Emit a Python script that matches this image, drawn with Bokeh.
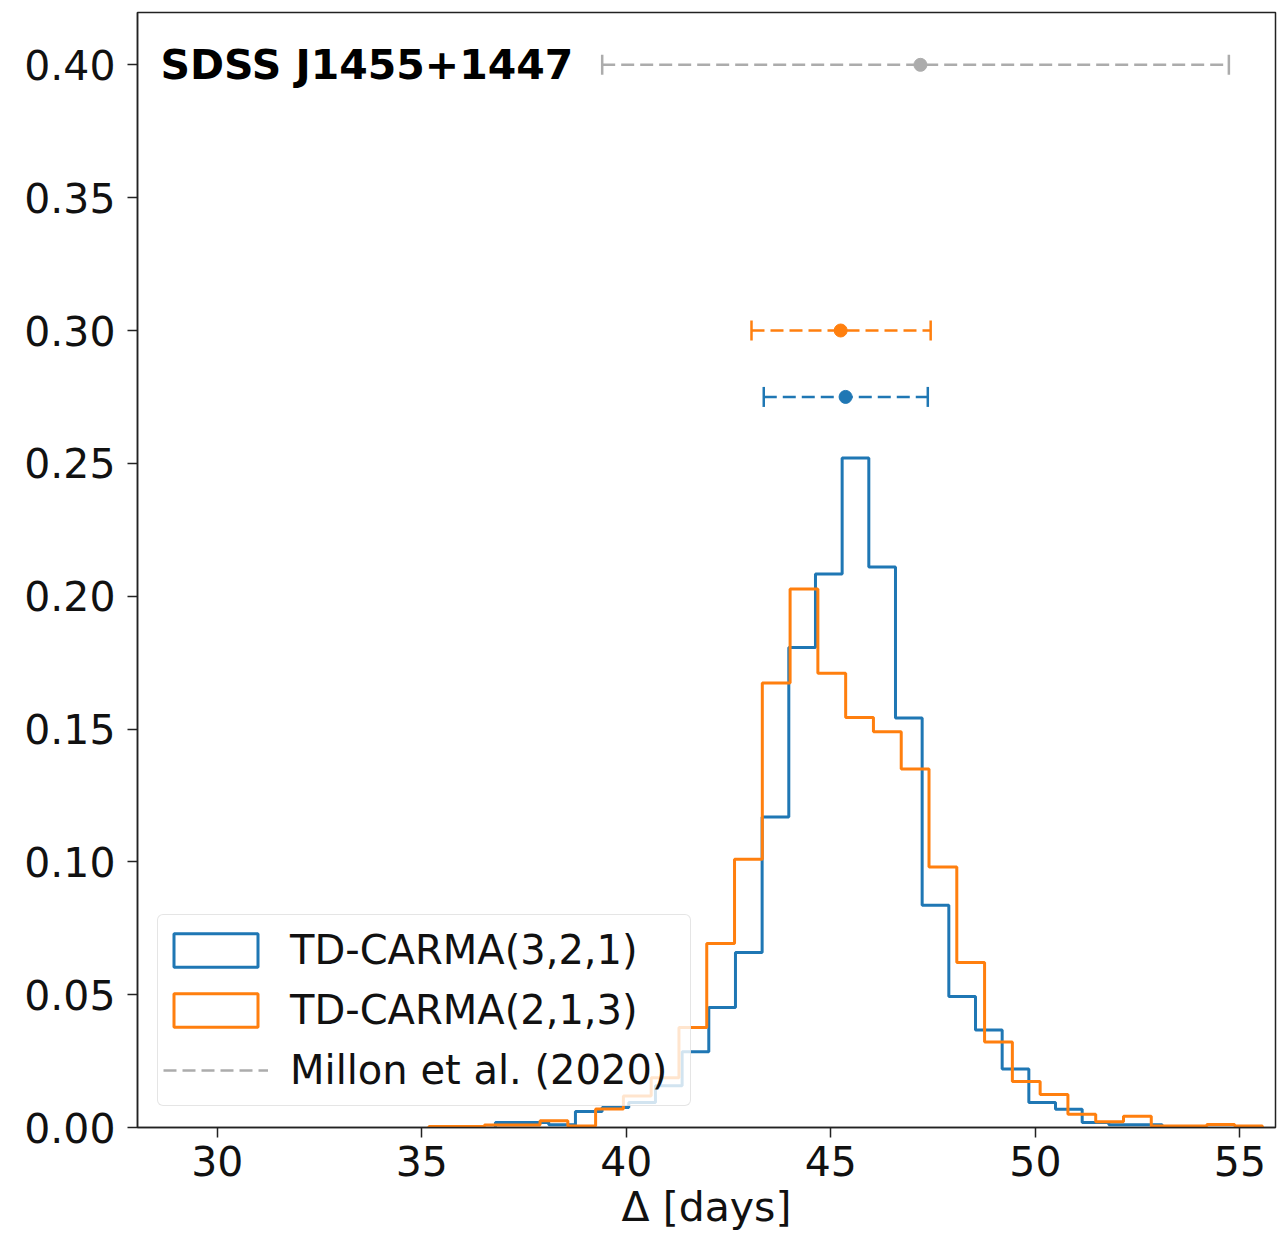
import numpy as np
from bokeh.plotting import figure
from bokeh.models import Range1d, FixedTicker, PrintfTickFormatter, Legend, LegendItem
from bokeh.core.properties import value
from bokeh.embed import file_html
from bokeh.resources import INLINE

# ---------------- data ----------------
title_text = "SDSS J1455+1447"
x_label = "Δ [days]"
x_ticks = [30, 35, 40, 45, 50, 55]
y_ticks = [0.00, 0.05, 0.10, 0.15, 0.20, 0.25, 0.30, 0.35, 0.40]

# TD-CARMA(3,2,1) histogram (density)
blue_label = "TD-CARMA(3,2,1)"
blue_start = 36.80
blue_width = 0.652
blue_density = [0.0019, 0.0019, 0.0010, 0.0060, 0.0075,
                0.0094, 0.0157, 0.0285, 0.0452, 0.0659,
                0.1169, 0.1807, 0.2083, 0.2520, 0.2110,
                0.1541, 0.0837, 0.0493, 0.0367, 0.0220,
                0.0094, 0.0069, 0.0019, 0.0010, 0.0010]

# TD-CARMA(2,1,3) histogram (density), 30 bins
orange_label = "TD-CARMA(2,1,3)"
orange_start = 35.174
orange_width = 0.6792
orange_density = [0.0004, 0.0004, 0.0009, 0.0009, 0.0025,
                  0.0006, 0.0070, 0.0119, 0.0187, 0.0376,
                  0.0693, 0.1010, 0.1673, 0.2027, 0.1710,
                  0.1543, 0.1490, 0.1349, 0.0981, 0.0621,
                  0.0322, 0.0173, 0.0124, 0.0050, 0.0022,
                  0.0042, 0.0006, 0.0006, 0.0011, 0.0006]

# point estimates with intervals
est_names = ["TD-CARMA(3,2,1)", "TD-CARMA(2,1,3)", "Millon et al. (2020)"]
est_center = [45.36, 45.24, 47.19]
est_low = [43.36, 43.06, 39.41]
est_high = [47.37, 47.44, 54.73]
est_y = [0.275, 0.300, 0.400]

BLUE = "#1f77b4"
ORANGE = "#ff7f0e"
GRAY = "#acacac"
FONT = "DejaVu Sans"
TEXT = "#111111"


def step_outline(start, width, dens):
    edges = [start + width * i for i in range(len(dens) + 1)]
    xs = [edges[0]]
    ys = [0.0]
    for i, h in enumerate(dens):
        xs += [edges[i], edges[i + 1]]
        ys += [h, h]
    xs.append(edges[-1])
    ys.append(0.0)
    return xs, ys


p = figure(width=1285, height=1243, output_backend="svg", toolbar_location=None,
           x_range=Range1d(28.05, 55.87), y_range=Range1d(0.0, 0.4197),
           min_border_left=137, min_border_right=10, min_border_top=12, min_border_bottom=116)
p.background_fill_color = "white"
p.border_fill_color = "white"
p.grid.visible = False
p.outline_line_color = "#222222"
p.outline_line_width = 1.5

bx, by = step_outline(blue_start, blue_width, blue_density)
ox, oy = step_outline(orange_start, orange_width, orange_density)
p.line(bx, by, line_color=BLUE, line_width=3)
p.line(ox, oy, line_color=ORANGE, line_width=3)

# legend proxies (rectangle outline glyphs, no visible marks)
nan = np.array([np.nan])
r_blue_leg = p.quad(left=nan, right=nan, bottom=nan, top=nan, fill_alpha=0,
                    line_color=BLUE, line_width=3)
r_orange_leg = p.quad(left=nan, right=nan, bottom=nan, top=nan, fill_alpha=0,
                      line_color=ORANGE, line_width=3)

colors = [BLUE, ORANGE, GRAY]
err_renderers = []
for c, lo, hi, yv, col in zip(est_center, est_low, est_high, est_y, colors):
    r = p.segment(x0=[lo], y0=[yv], x1=[hi], y1=[yv], line_color=col,
                  line_width=2.5, line_dash="13 6")
    err_renderers.append(r)
    p.scatter(x=[lo, hi], y=[yv, yv], marker="dash", angle=np.pi / 2, size=20,
              line_color=col, line_width=2.5)
    p.scatter(x=[c], y=[yv], marker="circle", size=13, fill_color=col, line_color=col)

p.text(x=[28.61], y=[0.40], text=[title_text], text_font=value(FONT), text_font_style="bold",
       text_font_size="41px", text_baseline="middle", text_align="left", text_color="black")

# axes
for ax in (p.xaxis[0], p.yaxis[0]):
    ax.major_label_text_font = FONT
    ax.major_label_text_font_size = "41px"
    ax.major_label_text_color = TEXT
    ax.major_tick_out = 10
    ax.major_tick_in = 0
    ax.minor_tick_out = 0
    ax.minor_tick_in = 0
    ax.major_tick_line_width = 1.5
    ax.major_tick_line_color = "#222222"
    ax.axis_line_color = "#222222"
    ax.axis_line_width = 1.5

p.xaxis.ticker = FixedTicker(ticks=x_ticks)
p.yaxis.ticker = FixedTicker(ticks=y_ticks)
p.yaxis.formatter = PrintfTickFormatter(format="%.2f")
p.xaxis.major_label_standoff = 8
p.yaxis.major_label_standoff = 12
p.xaxis.axis_label = x_label
p.xaxis.axis_label_text_font = FONT
p.xaxis.axis_label_text_font_size = "41px"
p.xaxis.axis_label_text_font_style = "normal"
p.xaxis.axis_label_text_color = TEXT
p.xaxis.axis_label_standoff = 4

legend = Legend(items=[LegendItem(label=blue_label, renderers=[r_blue_leg]),
                       LegendItem(label=orange_label, renderers=[r_orange_leg]),
                       LegendItem(label=est_names[2], renderers=[err_renderers[2]])],
                location=(20, 21))
legend.label_text_font = FONT
legend.label_text_font_size = "40px"
legend.label_text_color = TEXT
legend.glyph_width = 105
legend.glyph_height = 42
legend.label_height = 60
legend.label_width = 395
legend.spacing = 0
legend.padding = 5
legend.margin = 0
legend.label_standoff = 22
legend.border_line_color = "#cccccc"
legend.border_line_width = 1.5
legend.border_radius = 6
legend.background_fill_color = "white"
legend.background_fill_alpha = 0.8
p.add_layout(legend, "center")

open("out.html", "w").write(file_html(p, INLINE))
